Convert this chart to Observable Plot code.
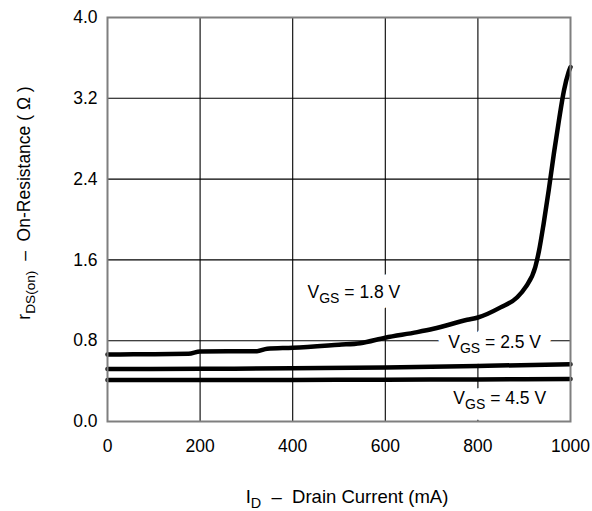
<!DOCTYPE html>
<html>
<head>
<meta charset="utf-8">
<script src="https://cdn.jsdelivr.net/npm/d3@7"></script>
<script src="https://cdn.jsdelivr.net/npm/@observablehq/plot@0.6"></script>
<style>
  html, body { margin: 0; padding: 0; background: #fff; }
  #chart { width: 592px; height: 511px; }
  svg { font-family: "Liberation Sans", Arial, Helvetica, sans-serif; }
</style>
</head>
<body>
<div id="chart"></div>
<script>
// ---- data ----
const xTicks = [0, 200, 400, 600, 800, 1000];
const yTicks = [0, 0.8, 1.6, 2.4, 3.2, 4.0];

const id18 = [0, 56, 175, 200, 323, 345, 400, 500, 546, 600, 669, 704, 777, 800, 849, 885, 903, 924, 932, 942, 953, 964, 975, 986, 996, 1000];
const r18  = [0.663, 0.665, 0.67, 0.693, 0.696, 0.72, 0.73, 0.76, 0.775, 0.83, 0.885, 0.918, 1.007, 1.03, 1.13, 1.23, 1.33, 1.53, 1.69, 1.96, 2.29, 2.65, 2.98, 3.28, 3.46, 3.51];

const id25 = [0, 200, 400, 600, 800, 1000];
const r25  = [0.52, 0.522, 0.527, 0.535, 0.55, 0.567];

const id45 = [0, 200, 400, 600, 800, 1000];
const r45  = [0.41, 0.411, 0.412, 0.414, 0.417, 0.42];

const labelText = ["1.8 V", "2.5 V", "4.5 V"];
const labelX = [432, 736, 747];
const labelY = [1.218, 0.723, 0.178];

// ---- build tables ----
const series = [
  ...id18.map((d, i) => ({ id: d, r: r18[i], s: "1.8" })),
  ...id25.map((d, i) => ({ id: d, r: r25[i], s: "2.5" })),
  ...id45.map((d, i) => ({ id: d, r: r45[i], s: "4.5" }))
];
const labels = labelText.map((t, i) => ({ t, x: labelX[i], y: labelY[i] }));

const FS = 17.5;

const chart = Plot.plot({
  width: 592,
  height: 511,
  marginLeft: 107,
  marginRight: 22,
  marginTop: 17,
  marginBottom: 90,
  style: { fontFamily: "Liberation Sans, Arial, sans-serif", fontSize: FS + "px", background: "#fff", color: "#000" },
  x: { domain: [0, 1000], ticks: xTicks, tickSize: 0, tickPadding: 18, label: null, tickFormat: d3.format("d") },
  y: { domain: [0, 4], ticks: yTicks, tickSize: 0, tickPadding: 10, label: null, tickFormat: d3.format(".1f") },
  marks: [
    Plot.ruleX(xTicks.slice(1, -1), { stroke: "#000", strokeWidth: 1.1, strokeOpacity: 1 }),
    Plot.ruleY(yTicks.slice(1, -1), { stroke: "#000", strokeWidth: 1.1, strokeOpacity: 1 }),
    Plot.text(labels, {
      x: "x", y: "y", text: "t", textAnchor: "start", lineAnchor: "bottom",
      fontSize: FS, fill: "white", stroke: "white", strokeWidth: 22, strokeLinejoin: "round",
      className: "vgs-halo"
    }),
    Plot.text(labels, {
      x: "x", y: "y", text: "t", textAnchor: "start", lineAnchor: "bottom",
      fontSize: FS, fill: "#000",
      className: "vgs-label"
    }),
    Plot.line(series, { x: "id", y: "r", z: "s", stroke: "#000", strokeWidth: 4.5, curve: "monotone-x", strokeLinejoin: "round" }),
    Plot.frame({ stroke: "#7f7f7f", strokeWidth: 2 }),
    Plot.axisX({ ticks: xTicks, tickSize: 0, tickPadding: 18, fontSize: FS, tickFormat: d3.format("d"), label: null }),
    Plot.axisY({ ticks: yTicks, tickSize: 0, tickPadding: 10, fontSize: FS, tickFormat: d3.format(".1f"), label: null })
  ]
});

document.getElementById("chart").appendChild(chart);

// subscript labels
const svg = d3.select(chart);
svg.selectAll("g.vgs-label text, g.vgs-halo text").each(function () {
  const el = d3.select(this);
  const rest = el.text();
  el.text(null);
  el.append("tspan").text("V");
  el.append("tspan").attr("dy", 5).attr("font-size", FS * 0.8).text("GS");
  el.append("tspan").attr("dy", -5).style("white-space", "pre").text(" = " + rest);
});

// axis titles
const yl = svg.append("text")
  .attr("transform", "translate(30,203) rotate(-90)")
  .attr("text-anchor", "middle")
  .attr("font-size", FS)
  .attr("fill", "#000")
  .style("white-space", "pre");
yl.append("tspan").text("r");
yl.append("tspan").attr("dy", 5).attr("font-size", FS * 0.78).text("DS(on)");
yl.append("tspan").attr("dy", -5).text("  \u2013  On-Resistance ( \u03A9 )");

const XFS = 18.5;
const xl = svg.append("text")
  .attr("x", 347).attr("y", 503)
  .attr("text-anchor", "middle")
  .attr("font-size", XFS)
  .attr("fill", "#000")
  .style("white-space", "pre");
xl.append("tspan").text("I");
xl.append("tspan").attr("dy", 5).attr("font-size", XFS * 0.78).text("D");
xl.append("tspan").attr("dy", -5).text("  \u2013  Drain Current (mA)");
</script>
</body>
</html>
